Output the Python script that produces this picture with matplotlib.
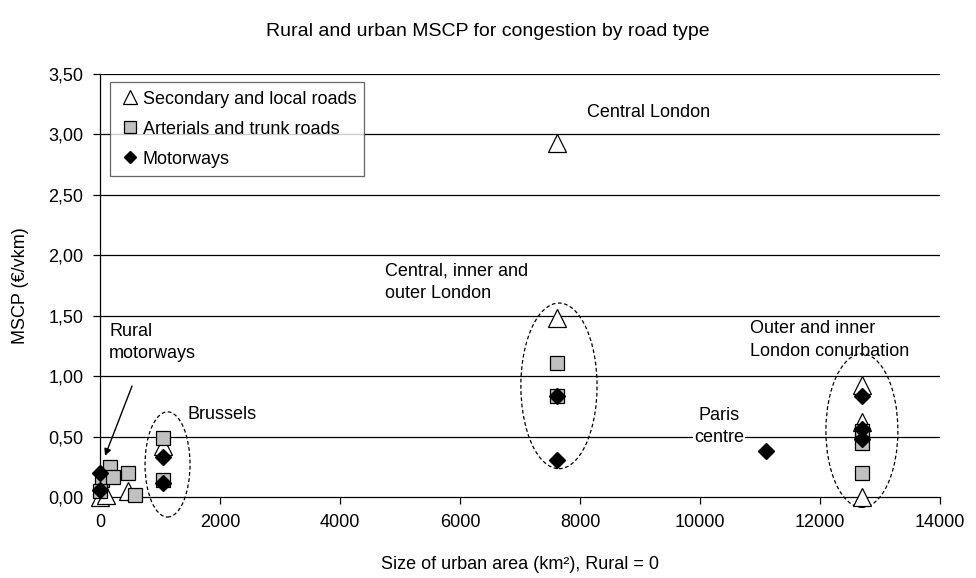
import numpy as np
import matplotlib.pyplot as plt
from matplotlib.patches import Ellipse

plt.rcParams['font.family'] = ['Liberation Sans', 'DejaVu Sans']

# size of urban area (km2), rural = 0 ; MSCP in EUR/vkm
sec_x = [0, 100, 470, 1050, 7620, 7620, 12700, 12700, 12700]
sec_y = [0.00, 0.02, 0.05, 0.42, 2.93, 1.48, 0.93, 0.62, 0.00]

art_x = [30, 0, 170, 220, 470, 580, 1050, 1050, 7620, 7620, 12700, 12700, 12700]
art_y = [0.14, 0.05, 0.25, 0.17, 0.20, 0.02, 0.49, 0.14, 1.11, 0.84, 0.55, 0.45, 0.20]

mot_x = [0, 0, 1050, 1050, 7620, 7620, 11100, 12700, 12700, 12700]
mot_y = [0.20, 0.06, 0.33, 0.12, 0.84, 0.31, 0.38, 0.84, 0.56, 0.48]

yticks = np.arange(0, 3.51, 0.5)
xticks = np.arange(0, 14001, 2000)
fs = 13

fig = plt.figure(figsize=(9.76, 5.78), dpi=100)
ax = fig.add_axes([0.1025, 0.14, 0.8605, 0.732])

for y in yticks[1:]:
    ax.axhline(y, color='black', lw=0.9, zorder=0)

ax.plot(sec_x, sec_y, ls='none', marker='^', ms=12.5, mfc='white', mec='black',
        mew=0.9, label='Secondary and local roads', zorder=3, clip_on=False)
ax.plot(art_x, art_y, ls='none', marker='s', ms=10.5, mfc='#c0c0c0', mec='black',
        mew=0.9, label='Arterials and trunk roads', zorder=4, clip_on=False)
ax.plot(mot_x, mot_y, ls='none', marker='D', ms=8, mfc='black', mec='black',
        label='Motorways', zorder=5, clip_on=False)

ax.set_xlim(0, 14000)
ax.set_ylim(0, 3.5)
ax.set_xticks(xticks)
ax.set_xticklabels([str(v) for v in xticks])
ax.set_yticks(yticks)
ax.set_yticklabels([f'{v:.2f}'.replace('.', ',') for v in yticks])
ax.tick_params(labelsize=fs, direction='out', length=5, width=0.9)
ax.tick_params(axis='y', pad=7)
ax.tick_params(axis='x', pad=7)
for s in ['top', 'right']:
    ax.spines[s].set_visible(False)
for s in ['left', 'bottom']:
    ax.spines[s].set_linewidth(0.9)

ax.set_xlabel('Size of urban area (km²), Rural = 0', fontsize=fs, labelpad=18)
ax.set_ylabel('MSCP (€/vkm)', fontsize=fs, labelpad=14)
fig.suptitle('Rural and urban MSCP for congestion by road type', fontsize=14, y=0.96)

leg = ax.legend(loc='upper left', bbox_to_anchor=(0.012, 0.98), fontsize=fs,
                frameon=True, fancybox=False, edgecolor='#404040', borderpad=0.45,
                handletextpad=0.05, handlelength=1.3, labelspacing=0.72,
                borderaxespad=0, markerscale=0.8)
leg.get_frame().set_linewidth(0.9)

# dashed ellipses round the city groups
for cx, cy, w, h in [(1125, 0.27, 750, 0.87), (7650, 0.92, 1270, 1.37),
                     (12700, 0.55, 1200, 1.27)]:
    ax.add_patch(Ellipse((cx, cy), w, h, fill=False, ls=(0, (3, 2)), lw=0.9,
                         ec='black', zorder=2, clip_on=False))

ax.text(9150, 3.18, 'Central London', fontsize=fs, ha='center', va='center')
ax.text(4750, 1.78, 'Central, inner and\nouter London', fontsize=fs, ha='left',
        va='center', linespacing=1.4)
ax.text(10830, 1.30, 'Outer and inner\nLondon conurbation', fontsize=fs,
        ha='left', va='center', linespacing=1.4)
ax.text(10317, 0.585, 'Paris\ncentre', fontsize=fs, ha='center', va='center',
        linespacing=1.4, bbox=dict(fc='white', ec='none', pad=1))
ax.text(150, 1.28, 'Rural\nmotorways', fontsize=fs, ha='left', va='center',
        linespacing=1.4)
ax.text(1450, 0.68, 'Brussels', fontsize=fs, ha='left', va='center')
ax.annotate('', xy=(67, 0.32), xytext=(550, 0.94),
            arrowprops=dict(arrowstyle='-|>', color='black', lw=1.0,
                            mutation_scale=10))

fig.savefig('out.png', dpi=100)
